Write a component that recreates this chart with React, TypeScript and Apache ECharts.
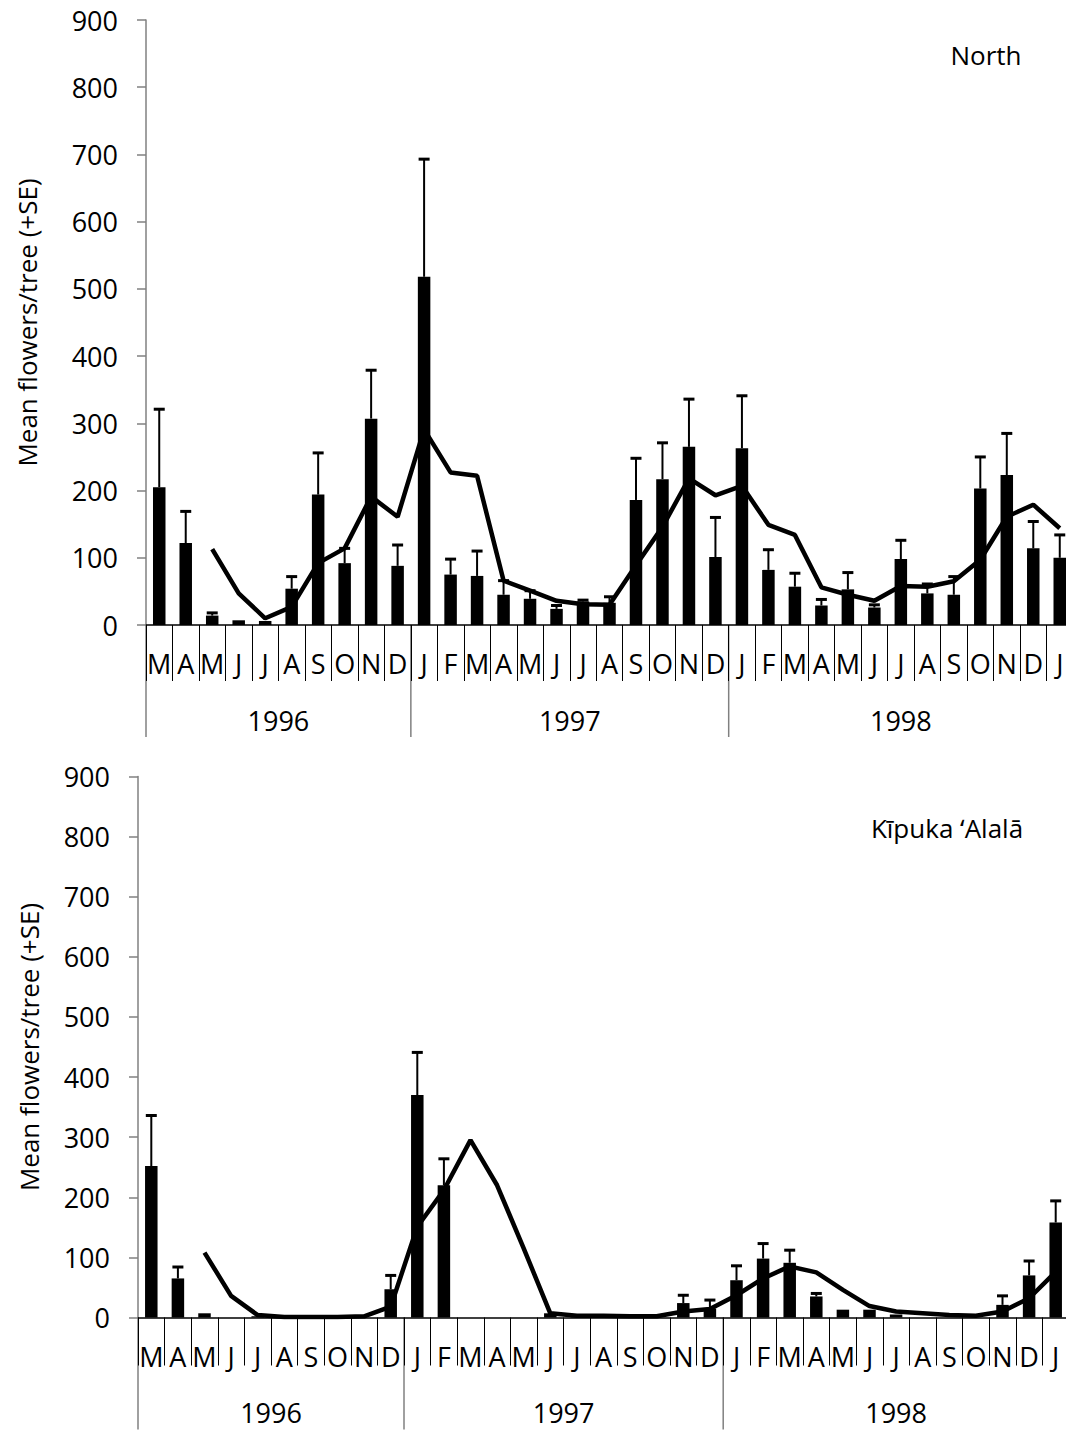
import React, { useEffect, useRef } from "react";
import * as echarts from "echarts";

const months = ["M","A","M","J","J","A","S","O","N","D","J","F","M","A","M","J","J","A","S","O","N","D","J","F","M","A","M","J","J","A","S","O","N","D","J"];
const years = [
  { label: "1996", from: 0, to: 10 },
  { label: "1997", from: 10, to: 22 },
  { label: "1998", from: 22, to: 35 },
];

const northBars = [205,122,14,7,6,54,194,92,307,88,518,75,73,45,39,24,35,33,186,217,265,101,263,82,57,29,53,26,98,47,45,203,223,114,100];
const northSE = [116,47,4,0,0,18,62,22,72,31,175,23,37,21,12,5,2,9,62,54,71,59,78,30,20,9,25,4,28,14,27,47,62,40,34];
const northLine = [null,null,113,47,10,27,92,114,191,161,291,227,222,66,51,36,31,30,89,146,218,193,207,149,134,56,45,36,58,57,65,97,161,179,144];

const kaBars = [252,65,7,0,2,0,0,0,0,47,370,220,0,0,0,7,2,0,0,0,24,15,62,98,91,35,13,13,5,0,0,0,21,70,158];
const kaSE = [84,19,0,0,0,0,0,0,0,23,71,44,0,0,0,0,0,0,0,0,13,14,24,25,21,5,0,0,0,0,0,0,15,24,36];
const kaLine = [null,null,108,36,4,1,1,1,2,18,151,212,295,220,115,7,3,3,2,2,10,14,37,65,85,75,46,19,10,7,4,3,10,32,76];

const panelTitles = ["North", "Kīpuka ʻAlalā"];
const yName = "Mean flowers/tree (+SE)";

const FONT = '"Open Sans", "Noto Sans", sans-serif';
const FS = 27;
const NAME_FS = 26;

function errRender(params: any, api: any) {
  const se = api.value(2);
  if (!se) return null;
  const i = api.value(0);
  const m = api.value(1);
  const a = api.coord([i, m]);
  const b = api.coord([i, m + se]);
  return {
    type: "group",
    children: [
      { type: "line", shape: { x1: a[0], y1: a[1], x2: b[0], y2: b[1] }, style: { stroke: "#000", lineWidth: 2 } },
      { type: "line", shape: { x1: b[0] - 5.5, y1: b[1], x2: b[0] + 5.5, y2: b[1] }, style: { stroke: "#000", lineWidth: 3 } },
    ],
  };
}

export default function App() {
  const ref = useRef<HTMLDivElement>(null);
  useEffect(() => {
    if (!ref.current) return;
    const chart = echarts.init(ref.current, null, { renderer: "svg" });
    const bars = [northBars, kaBars];
    const ses = [northSE, kaSE];
    const lines = [northLine, kaLine];
    const series: any[] = [];
    [0, 1].forEach((g) => {
      series.push({
        type: "bar",
        xAxisIndex: g,
        yAxisIndex: g,
        data: bars[g],
        barWidth: 12.5,
        itemStyle: { color: "#000" },
        z: 2,
      });
      series.push({
        type: "custom",
        xAxisIndex: g,
        yAxisIndex: g,
        data: bars[g].map((v, i) => [i, v, ses[g][i]]),
        renderItem: errRender,
        z: 3,
      });
      series.push({
        type: "line",
        xAxisIndex: g,
        yAxisIndex: g,
        data: lines[g],
        symbol: "none",
        connectNulls: false,
        lineStyle: { color: "#000", width: 4.5 },
        z: 4,
      });
    });
    const option: any = {
      animation: false,
      grid: [
        { left: 146, top: 20, width: 927, height: 605, containLabel: false },
        { left: 138, top: 776.5, width: 931, height: 541, containLabel: false },
      ],
      xAxis: [0, 1].map((i) => ({
        type: "category",
        gridIndex: i,
        data: months,
        boundaryGap: true,
        axisLine: { show: true, lineStyle: { color: "#000", width: 1.5 } },
        axisTick: { show: true, interval: 0, length: i === 0 ? 56 : 48, lineStyle: { color: "#000", width: 1 } },
        axisLabel: { interval: 0, margin: i === 0 ? 38 : 39, verticalAlign: "middle", fontSize: FS, color: "#000", fontFamily: FONT },
        splitLine: { show: false },
      })),
      yAxis: [0, 1].map((i) => ({
        type: "value",
        gridIndex: i,
        min: 0,
        max: 900,
        interval: 100,
        name: yName,
        nameLocation: "middle",
        nameGap: i === 0 ? 106 : 96,
        nameRotate: 90,
        nameTextStyle: { fontSize: NAME_FS, color: "#000", fontFamily: FONT },
        axisLine: { show: true, lineStyle: { color: "#808080", width: 1.5 } },
        axisTick: { show: true, length: 9, lineStyle: { color: "#808080", width: 1.5 } },
        axisLabel: { margin: 28, fontSize: FS, color: "#000", fontFamily: FONT },
        splitLine: { show: false },
      })),
      series,
    };
    chart.setOption(option);

    const graphic: any[] = [];
    [0, 1].forEach((g) => {
      const c0 = chart.convertToPixel({ xAxisIndex: g } as any, 0) as any as number;
      const c1 = chart.convertToPixel({ xAxisIndex: g } as any, 1) as any as number;
      const bw = c1 - c0;
      const y0 = chart.convertToPixel({ yAxisIndex: g } as any, 0) as any as number;
      const bx = (k: number) => c0 - bw / 2 + k * bw;
      const bounds = [0, 10, 22, 35];
      bounds.forEach((k) => {
        graphic.push({
          type: "line",
          shape: { x1: bx(k), y1: y0, x2: bx(k), y2: y0 + 112 },
          style: { stroke: "#808080", lineWidth: 1.5 },
        });
      });
      years.forEach((yr) => {
        graphic.push({
          type: "text",
          x: bx((yr.from + yr.to) / 2),
          y: y0 + 95,
          style: { text: yr.label, fontSize: FS, fontFamily: FONT, fill: "#000", textAlign: "center", textVerticalAlign: "middle" },
        });
      });
    });
    graphic.push({
      type: "text",
      x: 986,
      y: 55,
      style: { text: panelTitles[0], fontSize: NAME_FS, fontFamily: FONT, fill: "#000", textAlign: "center", textVerticalAlign: "middle" },
    });
    graphic.push({
      type: "text",
      x: 947,
      y: 828,
      style: { text: panelTitles[1], fontSize: NAME_FS, fontFamily: FONT, fill: "#000", textAlign: "center", textVerticalAlign: "middle" },
    });
    chart.setOption({ graphic });

    return () => chart.dispose();
  }, []);
  return (
    <div style={{ position: "absolute", left: 0, top: 0, width: 1066, height: 1431, overflow: "hidden", background: "#fff" }}>
      <div ref={ref} style={{ position: "absolute", left: 0, top: 0, width: 1090, height: 1431 }} />
    </div>
  );
}
